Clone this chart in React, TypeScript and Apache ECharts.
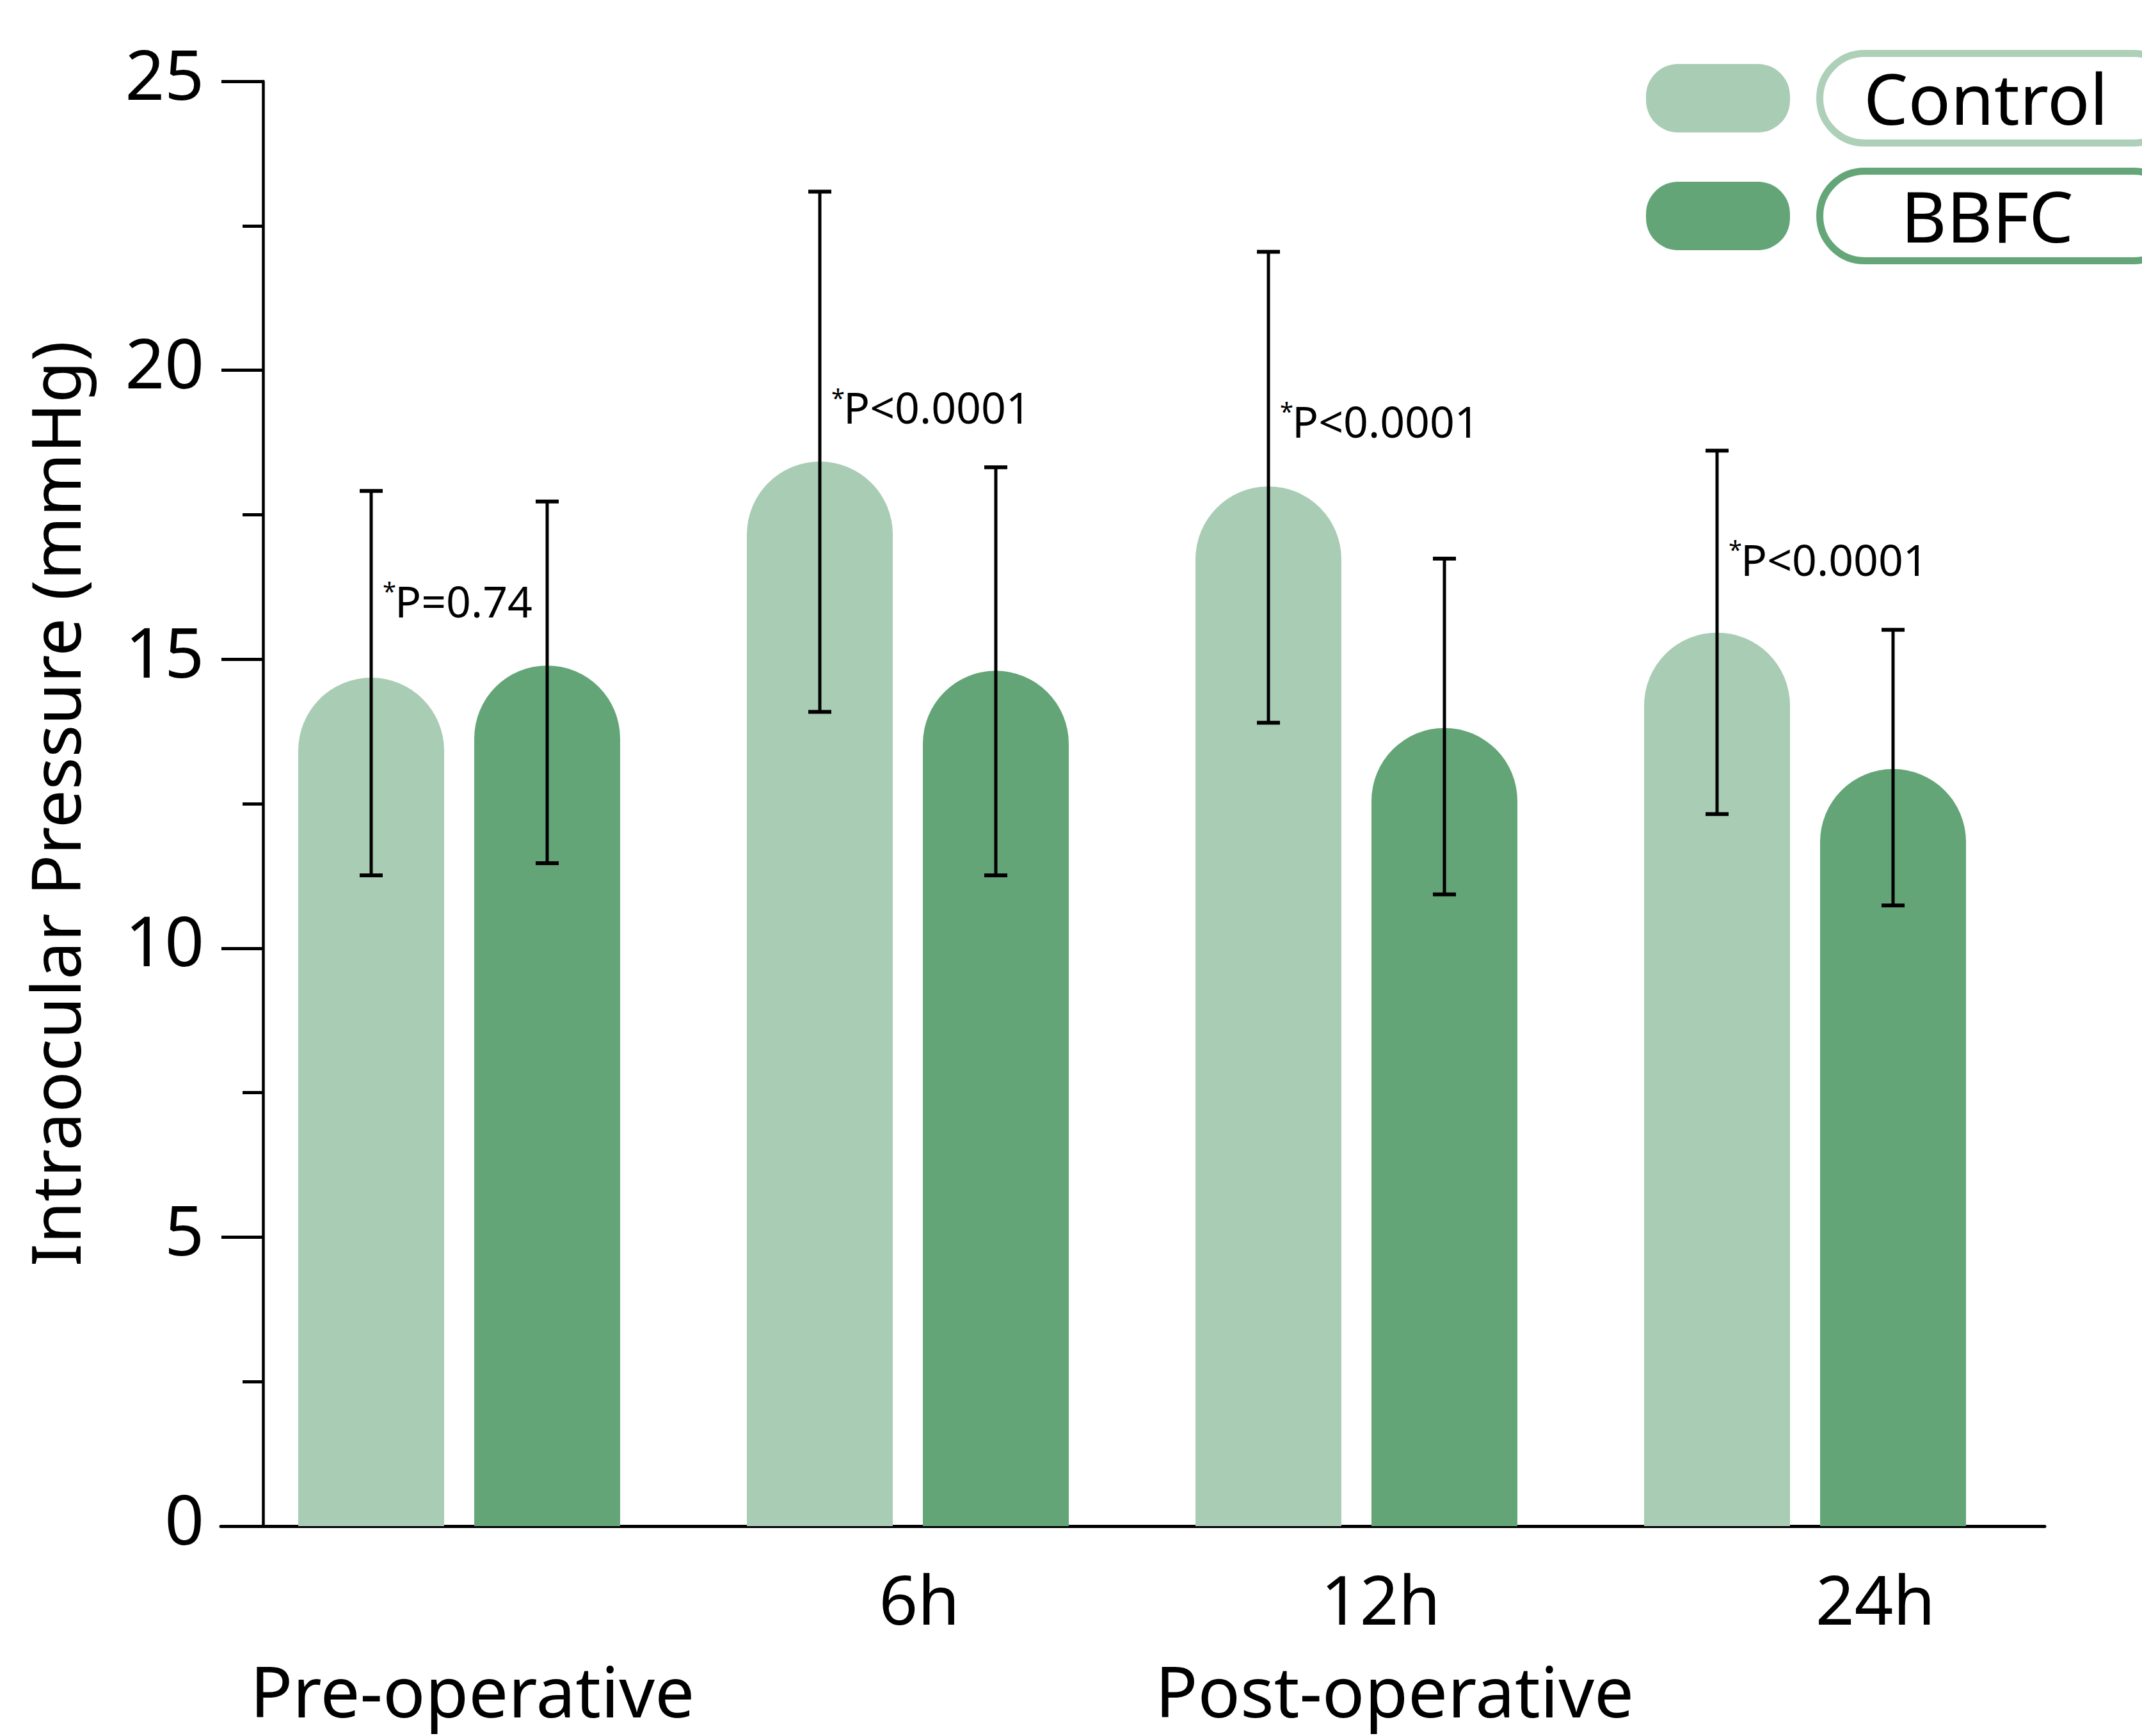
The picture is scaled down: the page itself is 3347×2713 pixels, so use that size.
import React, { useEffect, useRef } from 'react';
import * as echarts from 'echarts';

// ---- data ----
const categories = ['Pre-operative', '6h', '12h', '24h'];
const xTickLabels = ['', '6h', '12h', '24h'];
const xTickShift = [0, 18, 38, 110];
const seriesNames = ['Control', 'BBFC'];
const controlMean = [14.68, 18.42, 17.99, 15.46];
const controlHigh = [17.91, 23.09, 22.05, 18.61];
const controlLow = [11.26, 14.09, 13.9, 12.32];
const bbfcMean = [14.89, 14.8, 13.81, 13.1];
const bbfcHigh = [17.73, 18.32, 16.74, 15.51];
const bbfcLow = [11.47, 11.26, 10.93, 10.74];
const pTexts = ['P=0.74', 'P<0.0001', 'P<0.0001', 'P<0.0001'];
const pTextY = [16.02, 19.37, 19.13, 16.74];
const groupLabels = ['Pre-operative', 'Post-operative'];

// ---- styling ----
const W = 3347;
const H = 2713;
const FONT = '"Noto Sans", sans-serif';
const C_CONTROL = '#A9CCB4';
const C_BBFC = '#63A577';
const C_CONTROL_BORDER = '#AED0B9';
const C_BBFC_BORDER = '#64A677';
const BAR_W = 228;
const BAR_GAP = 47;
const OFF = (BAR_W + BAR_GAP) / 2;
const CAP = 36;

export default function App() {
  const ref = useRef<HTMLDivElement>(null);

  useEffect(() => {
    if (!ref.current) return;
    const chart = echarts.init(ref.current, undefined, { renderer: 'svg' });

    const errData: number[][] = [];
    categories.forEach((_, i) => {
      errData.push([i, controlLow[i], controlHigh[i], 0]);
      errData.push([i, bbfcLow[i], bbfcHigh[i], 1]);
    });
    const pData = categories.map((_, i) => [i, pTextY[i]]);

    const rich: Record<string, any> = {};
    xTickShift.forEach((s, i) => {
      rich['r' + i] = {
        fontSize: 106,
        fontFamily: FONT,
        color: '#000',
        padding: [0, 0, 0, 2 * s],
      };
    });

    const option: any = {
      animation: false,
      backgroundColor: '#ffffff',
      textStyle: { fontFamily: FONT },
      grid: [
        { left: 367, right: 176, top: 127, bottom: 328 },
        { left: 345, right: 152, top: 127, bottom: 328 },
      ],
      xAxis: [
        {
          type: 'category',
          gridIndex: 0,
          data: categories,
          boundaryGap: true,
          axisLine: { show: false },
          axisTick: { show: false },
          splitLine: { show: false },
          axisLabel: {
            interval: 0,
            margin: 60,
            formatter: (_v: string, idx: number) => `{r${idx}|${xTickLabels[idx]}}`,
            rich,
          },
        },
        {
          type: 'value',
          gridIndex: 1,
          min: 0,
          max: 1,
          position: 'bottom',
          axisLine: { show: true, onZero: false, lineStyle: { color: '#000', width: 5 } },
          axisTick: { show: false },
          axisLabel: { show: false },
          splitLine: { show: false },
        },
      ],
      yAxis: [
        {
          type: 'value',
          gridIndex: 0,
          min: 0,
          max: 25,
          interval: 5,
          offset: -44,
          name: 'Intraocular Pressure (mmHg)',
          nameLocation: 'middle',
          nameGap: 273,
          nameTextStyle: { fontSize: 106, color: '#000', fontFamily: FONT },
          axisLine: { show: true, lineStyle: { color: '#000', width: 4.5 } },
          axisTick: { show: true, length: 65, lineStyle: { color: '#000', width: 5 } },
          minorTick: { show: true, splitNumber: 2, length: 32, lineStyle: { color: '#000', width: 5 } },
          splitLine: { show: false },
          axisLabel: {
            margin: 92,
            formatter: '{t|{value}}',
            rich: {
              t: {
                fontSize: 108,
                color: '#000',
                fontFamily: FONT,
                padding: [0, 0, 26, 0],
              },
            },
          },
        },
        {
          type: 'value',
          gridIndex: 1,
          min: 0,
          max: 1,
          show: false,
        },
      ],
      series: [
        {
          name: seriesNames[0],
          type: 'bar',
          xAxisIndex: 0,
          yAxisIndex: 0,
          data: controlMean,
          barWidth: BAR_W,
          barGap: `${(BAR_GAP / BAR_W) * 100}%`,
          itemStyle: { color: C_CONTROL, borderRadius: [BAR_W / 2, BAR_W / 2, 0, 0] },
          z: 2,
        },
        {
          name: seriesNames[1],
          type: 'bar',
          xAxisIndex: 0,
          yAxisIndex: 0,
          data: bbfcMean,
          barWidth: BAR_W,
          barGap: `${(BAR_GAP / BAR_W) * 100}%`,
          itemStyle: { color: C_BBFC, borderRadius: [BAR_W / 2, BAR_W / 2, 0, 0] },
          z: 2,
        },
        {
          type: 'custom',
          xAxisIndex: 0,
          yAxisIndex: 0,
          data: errData,
          encode: { x: 0, y: [1, 2] },
          z: 5,
          silent: true,
          renderItem: (_params: any, api: any) => {
            const i = api.value(0);
            const lo = api.value(1);
            const hi = api.value(2);
            const s = api.value(3);
            const cx = api.coord([i, 0])[0] + (s === 0 ? -OFF : OFF);
            const yLo = api.coord([i, lo])[1];
            const yHi = api.coord([i, hi])[1];
            const st = { stroke: '#000', lineWidth: 5 };
            const cst = { stroke: '#000', lineWidth: 6 };
            return {
              type: 'group',
              children: [
                { type: 'line', shape: { x1: cx, y1: yHi, x2: cx, y2: yLo }, style: st },
                { type: 'line', shape: { x1: cx - CAP / 2, y1: yHi, x2: cx + CAP / 2, y2: yHi }, style: cst },
                { type: 'line', shape: { x1: cx - CAP / 2, y1: yLo, x2: cx + CAP / 2, y2: yLo }, style: cst },
              ],
            };
          },
        },
        {
          type: 'custom',
          xAxisIndex: 0,
          yAxisIndex: 0,
          data: pData,
          encode: { x: 0, y: 1 },
          z: 6,
          silent: true,
          renderItem: (params: any, api: any) => {
            const i = api.value(0);
            const v = api.value(1);
            const c = api.coord([i, v]);
            const x = c[0] - OFF + 18;
            return {
              type: 'group',
              children: [
                {
                  type: 'text',
                  style: {
                    text: '*',
                    x,
                    y: c[1] - 15,
                    fill: '#000',
                    font: `38px ${FONT}`,
                    align: 'left',
                    verticalAlign: 'middle',
                  },
                },
                {
                  type: 'text',
                  style: {
                    text: pTexts[params.dataIndex],
                    x: x + 19,
                    y: c[1],
                    fill: '#000',
                    font: `68px ${FONT}`,
                    align: 'left',
                    verticalAlign: 'middle',
                  },
                },
              ],
            };
          },
        },
      ],
      graphic: [
        // group labels under the axis
        {
          type: 'text',
          x: 738,
          y: 2641,
          style: {
            text: groupLabels[0],
            fill: '#000',
            font: `110px ${FONT}`,
            align: 'center',
            verticalAlign: 'middle',
          },
        },
        {
          type: 'text',
          x: 2179,
          y: 2641,
          style: {
            text: groupLabels[1],
            fill: '#000',
            font: `110px ${FONT}`,
            align: 'center',
            verticalAlign: 'middle',
          },
        },
        // legend
        {
          type: 'rect',
          shape: { x: 2572, y: 100, width: 225, height: 107, r: 50 },
          style: { fill: C_CONTROL },
        },
        {
          type: 'rect',
          shape: { x: 2843.5, y: 83.5, width: 560, height: 140, r: 70 },
          style: { fill: '#fff', stroke: C_CONTROL_BORDER, lineWidth: 11 },
        },
        {
          type: 'text',
          x: 3103,
          y: 152,
          style: {
            text: seriesNames[0],
            fill: '#000',
            font: `110px ${FONT}`,
            align: 'center',
            verticalAlign: 'middle',
          },
        },
        {
          type: 'rect',
          shape: { x: 2572, y: 284, width: 225, height: 107, r: 50 },
          style: { fill: C_BBFC },
        },
        {
          type: 'rect',
          shape: { x: 2843.5, y: 267.5, width: 560, height: 140, r: 70 },
          style: { fill: '#fff', stroke: C_BBFC_BORDER, lineWidth: 11 },
        },
        {
          type: 'text',
          x: 3105,
          y: 336,
          style: {
            text: seriesNames[1],
            fill: '#000',
            font: `110px ${FONT}`,
            align: 'center',
            verticalAlign: 'middle',
          },
        },
      ],
    };

    chart.setOption(option);
    return () => {
      chart.dispose();
    };
  }, []);

  return (
    <div
      ref={ref}
      style={{ position: 'absolute', left: 0, top: 0, width: W, height: H, background: '#fff' }}
    />
  );
}
